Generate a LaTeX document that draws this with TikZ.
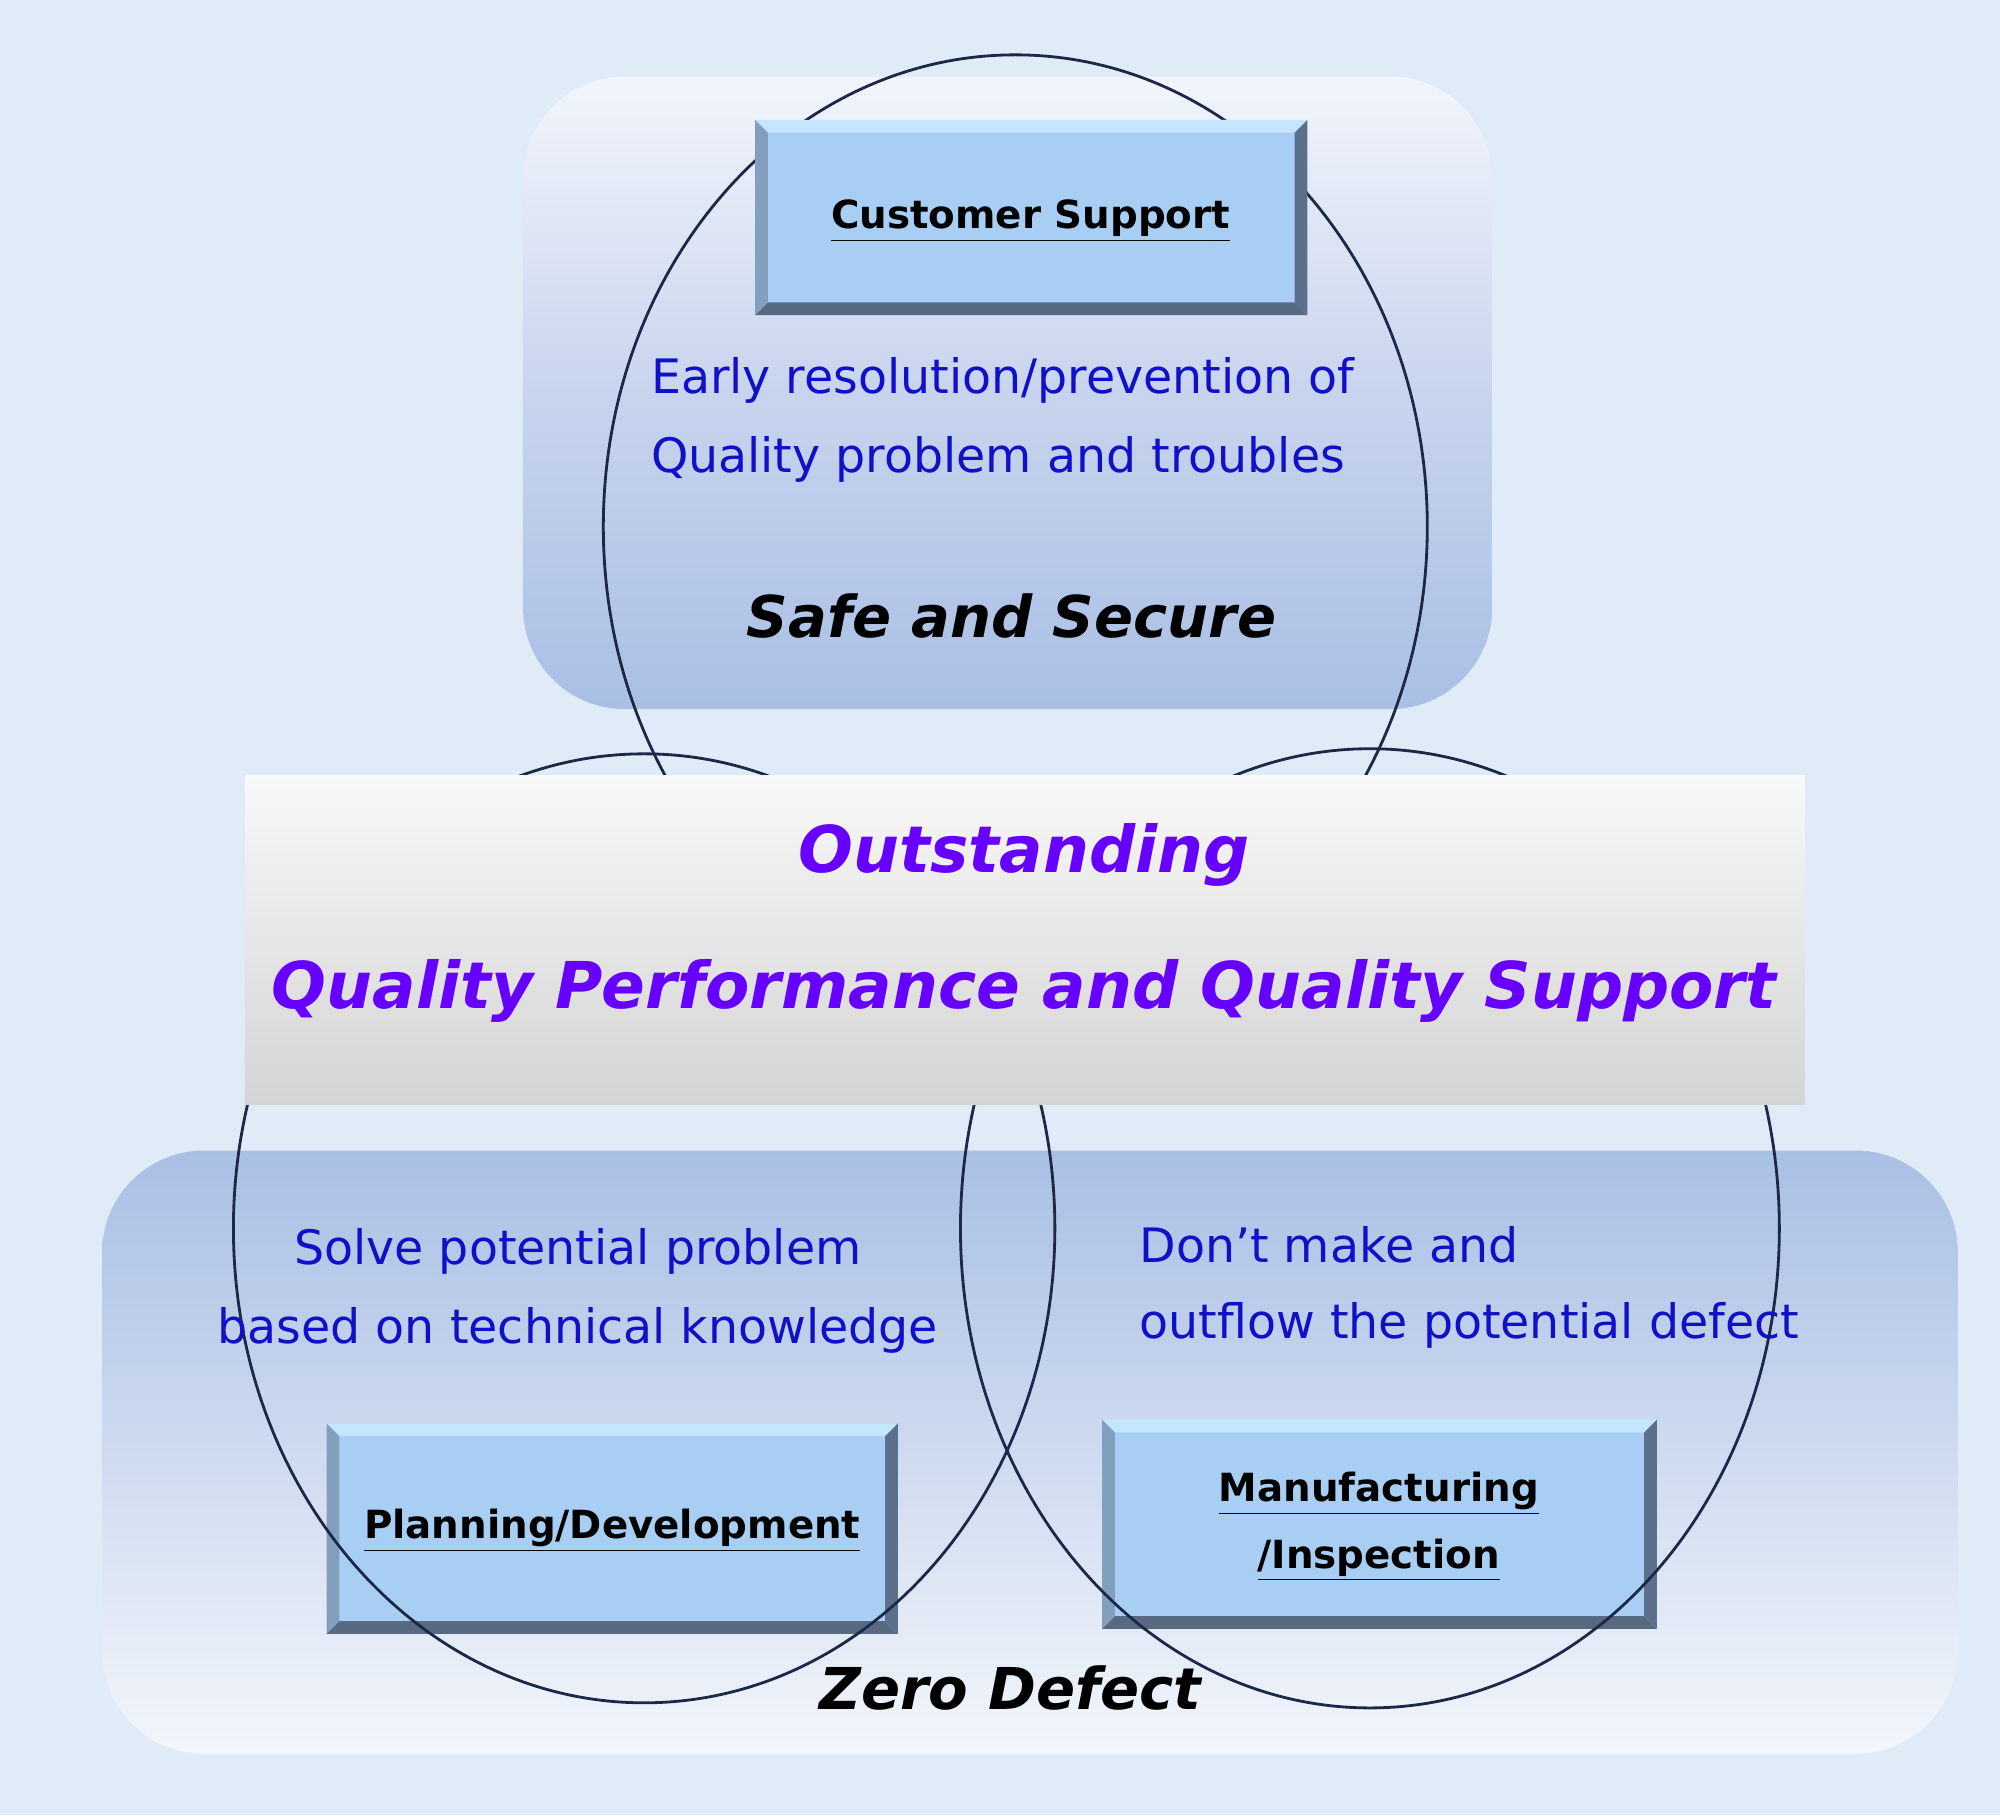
\documentclass[tikz,border=0pt]{standalone}
\usepackage{fontspec}
\setmainfont{DejaVu Sans}
\begin{document}
\begin{tikzpicture}[x=0.5pt,y=-0.5pt]
\definecolor{bg}{HTML}{DFEBF6}
\definecolor{pan}{HTML}{A9BFE4}
\definecolor{navy}{HTML}{1C2848}
\definecolor{btxt}{HTML}{1010C8}
\definecolor{purp}{HTML}{6600FF}
\definecolor{bfill}{HTML}{A8CFF3}
\tikzset{
 circ/.style={draw=navy,line width=1.1pt},
 btext/.style={text=btxt,font=\fontsize{18.6}{22}\selectfont,inner sep=0pt},
 ctext/.style={font=\bfseries\itshape\fontsize{25.3}{30}\selectfont,inner sep=0pt},
 htext/.style={font=\bfseries\itshape\fontsize{22.6}{27}\selectfont,inner sep=0pt},
 lbl/.style={font=\bfseries\fontsize{15.2}{26}\selectfont,align=center,inner sep=0pt},
}
\newcommand{\bevbox}[4]{% x1 y1 x2 y2
 \fill[bfill] (#1,#2) rectangle (#3,#4);
 \fill[color={rgb,255:red,196;green,230;blue,255}] (#1,#2) -- (#3,#2) -- ++(-10,10) -- (#1+10,#2+10) -- cycle;
 \fill[color={rgb,255:red,88;green,106;blue,130}] (#1,#4) -- (#3,#4) -- ++(-10,-10) -- (#1+10,#4-10) -- cycle;
 \fill[color={rgb,255:red,130;green,160;blue,190}] (#1,#2) -- (#1+10,#2+10) -- (#1+10,#4-10) -- (#1,#4) -- cycle;
 \fill[color={rgb,255:red,92;green,112;blue,140}] (#3,#2) -- (#3-10,#2+10) -- (#3-10,#4-10) -- (#3,#4) -- cycle;
}
\fill[bg] (0,0) rectangle (1568,1423);
\useasboundingbox (0,0) rectangle (1568,1423);
\shade[rounded corners=40pt,top color={rgb,255:red,242;green,245;blue,251},bottom color=pan,middle color={rgb,255:red,200;green,212;blue,238}] (410,60) rectangle (1170,556);
\shade[rounded corners=40pt,top color=pan,bottom color={rgb,255:red,243;green,246;blue,251}] (80,902) rectangle (1535,1375);
\bevbox{256}{1116}{704}{1281}
\bevbox{864}{1113}{1299}{1277}
\node[lbl] (pd) at (480,1200) {\underline{Planning/Development}};
\node[lbl] (mi) at (1081,1197) {\underline{Manufacturing}\\\underline{/Inspection}};
\draw[circ] (796,413) ellipse [x radius=323,y radius=370];
\draw[circ] (505,963) ellipse [x radius=322,y radius=372];
\draw[circ] (1074,963) ellipse [x radius=321,y radius=376];
\bevbox{592}{94}{1025}{247}
\node[lbl] (cs) at (808,173) {\underline{Customer Support}};
\shade[top color={rgb,255:red,248;green,248;blue,248},bottom color={rgb,255:red,212;green,212;blue,212}] (192,608) rectangle (1415,866);
\node[ctext,text=purp] (o1) at (803,670) {Outstanding};
\node[ctext,text=purp] (o2) at (803,777) {Quality Performance and Quality Support};
\node[btext,anchor=west] (t1) at (510,298) {Early resolution/prevention of};
\node[btext,anchor=west] (t2) at (510,360) {Quality problem and troubles};
\node[btext] (t3) at (453,981) {Solve potential problem};
\node[btext] (t4) at (453,1043) {based on technical knowledge};
\node[btext,anchor=west] (t5) at (893,976) {Don’t make and};
\node[btext,anchor=west] (t6) at (893,1039) {outflow the potential defect};
\node[htext] (ss) at (793,483) {Safe and Secure};
\node[htext] (zd) at (792,1323) {Zero Defect};
\end{tikzpicture}
\end{document}
